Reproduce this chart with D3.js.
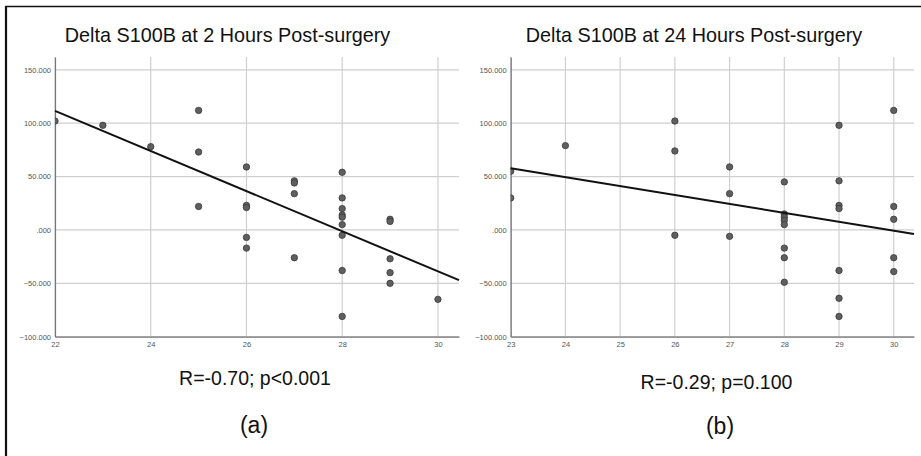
<!DOCTYPE html>
<html>
<head>
<meta charset="utf-8">
<script src="https://cdn.jsdelivr.net/npm/d3@7"></script>
<style>
  body { margin: 0; background: #fff; }
  svg { display: block; font-family: "Liberation Sans", Arial, sans-serif; }
</style>
</head>
<body>
<div id="app"></div>
<script>
// panel (a): 2 hours post-surgery
const x2h = [22, 23, 24, 25, 25, 25, 26, 26, 26, 26, 26, 27, 27, 27, 27,
  28, 28, 28, 28, 28, 28, 28, 28, 28, 29, 29, 29, 29, 29, 30];
const y2h = [102, 98, 78, 112, 73, 22, 59, 23, 21, -7, -17, 46, 44, 34, -26,
  54, 30, 20, 14, 12, 5, -5, -38, -81, 10, 8, -27, -40, -50, -65];

// panel (b): 24 hours post-surgery
const x24h = [23, 23, 24, 26, 26, 26, 27, 27, 27, 28, 28, 28, 28, 28, 28, 28, 28,
  29, 29, 29, 29, 29, 29, 29, 30, 30, 30, 30, 30];
const y24h = [55, 30, 79, 102, 74, -5, 59, 34, -6, 45, 15, 12, 9, 5, -17, -26, -49,
  98, 46, 23, 20, -38, -64, -81, 112, 22, 10, -26, -39];

// fit lines (y = a + b*x)
const fit2h = { a: 525.2, b: -18.8 };
const fit24h = { a: 249.85, b: -8.35 };

const xTicks2h = [22, 24, 26, 28, 30];
const xTicks24h = [23, 24, 25, 26, 27, 28, 29, 30];
const yTicks = [150, 100, 50, 0, -50, -100];

const titles = ["Delta S100B at 2 Hours Post-surgery", "Delta S100B at 24 Hours Post-surgery"];
const stats = ["R=-0.70; p<0.001", "R=-0.29; p=0.100"];
const letters = ["(a)", "(b)"];

const W = 921, H = 456;
const svg = d3.select("#app").append("svg").attr("width", W).attr("height", H);

// frame lines (top and left only)
svg.append("line").attr("x1", 5).attr("x2", W).attr("y1", 6.5).attr("y2", 6.5)
  .attr("stroke", "#111").attr("stroke-width", 1.6);
svg.append("line").attr("x1", 6).attr("x2", 6).attr("y1", 6).attr("y2", H)
  .attr("stroke", "#111").attr("stroke-width", 2.2);

const fmtY = (v) => (v === 0 ? ".000" : d3.format(".3f")(v));

const panels = [
  { xs: x2h, ys: y2h, fit: fit2h, ticks: xTicks2h, dom: [22, 30.44], range: [55, 459],
    title: titles[0], titleX: 227.5, stat: stats[0], statX: 255, statY: 385,
    letter: letters[0], letterX: 254, letterY: 433 },
  { xs: x24h, ys: y24h, fit: fit24h, ticks: xTicks24h, dom: [23, 30.37], range: [510.7, 914],
    title: titles[1], titleX: 694, stat: stats[1], statX: 716.5, statY: 389,
    letter: letters[1], letterX: 720, letterY: 434 }
];

panels.forEach((p, idx) => {
  const x = d3.scaleLinear().domain(p.dom).range(p.range);
  const y = d3.scaleLinear().domain([-100, 162]).range([336.7, 57]);
  const g = svg.append("g");

  const clipId = "clip" + idx;
  svg.append("clipPath").attr("id", clipId).append("rect")
    .attr("x", p.range[0]).attr("y", 57)
    .attr("width", p.range[1] - p.range[0]).attr("height", 336.7 - 57);

  // gridlines
  g.selectAll(".hg").data(yTicks).enter().append("line")
    .attr("x1", p.range[0]).attr("x2", p.range[1])
    .attr("y1", (d) => y(d)).attr("y2", (d) => y(d))
    .attr("stroke", "#cfcfcf").attr("stroke-width", 1.2);
  g.selectAll(".vg").data(p.ticks).enter().append("line")
    .attr("x1", (d) => x(d)).attr("x2", (d) => x(d))
    .attr("y1", 57).attr("y2", 336.7)
    .attr("stroke", "#cfcfcf").attr("stroke-width", 1.2);

  // axes
  const yAxis = d3.axisLeft(y).tickValues(yTicks).tickFormat(fmtY).tickSize(0).tickPadding(4);
  const ya = g.append("g").attr("transform", `translate(${p.range[0]},0)`).call(yAxis);
  ya.select(".domain").attr("stroke", "#777").attr("stroke-width", 1.2);
  ya.selectAll("text").attr("font-size", 7.5).attr("fill", "#555")
    .attr("font-family", "'Liberation Sans', Arial, sans-serif");

  const xAxis = d3.axisBottom(x).tickValues(p.ticks).tickFormat(d3.format("d")).tickSize(0).tickPadding(5);
  const xa = g.append("g").attr("transform", "translate(0,336.7)").call(xAxis);
  xa.select(".domain").attr("stroke", "#777").attr("stroke-width", 1.2);
  xa.selectAll("text").attr("font-size", 7.5).attr("fill", "#555")
    .attr("font-family", "'Liberation Sans', Arial, sans-serif");

  // points
  const pts = d3.zip(p.xs, p.ys);
  g.append("g").attr("clip-path", `url(#${clipId})`)
    .selectAll("circle").data(pts).enter().append("circle")
    .attr("cx", (d) => x(d[0])).attr("cy", (d) => y(d[1])).attr("r", 3.2)
    .attr("fill", "#5f5f5f").attr("stroke", "#3a3a3a").attr("stroke-width", 0.8);

  // fit line
  const line = d3.line().x((d) => x(d)).y((d) => y(p.fit.a + p.fit.b * d));
  g.append("path").datum(p.dom).attr("d", line)
    .attr("fill", "none").attr("stroke", "#111").attr("stroke-width", 2);

  // texts
  g.append("text").attr("x", p.titleX).attr("y", 42).attr("text-anchor", "middle")
    .attr("font-size", 19.8).attr("fill", "#111").text(p.title);
  g.append("text").attr("x", p.statX).attr("y", p.statY).attr("text-anchor", "middle")
    .attr("font-size", 19.5).attr("fill", "#111").text(p.stat);
  g.append("text").attr("x", p.letterX).attr("y", p.letterY).attr("text-anchor", "middle")
    .attr("font-size", 23).attr("fill", "#111").text(p.letter);
});
</script>
</body>
</html>
